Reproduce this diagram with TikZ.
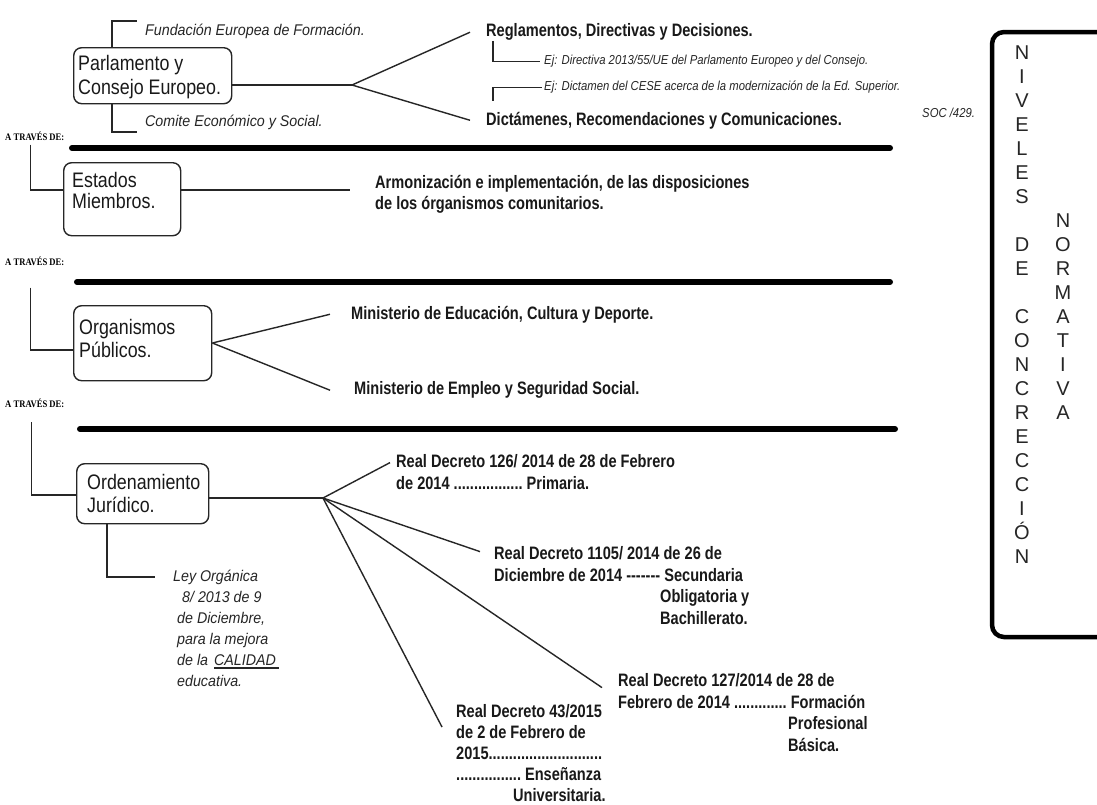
\documentclass[tikz,border=0pt]{standalone}
\usepackage{fontspec}
\setmainfont{Liberation Sans}
\newfontfamily\boxfam[FakeStretch=0.85]{Liberation Sans}
\newfontfamily\bfam[FakeStretch=0.81]{Liberation Sans}
\newfontfamily\ifam[FakeStretch=0.92]{Liberation Sans}
\newfontfamily\sifam[FakeStretch=0.87]{Liberation Sans}
\newfontfamily\serfam[FakeStretch=0.86]{Liberation Serif}
\newfontfamily\vfam{Liberation Sans}
\newcommand\boxft{\boxfam\fontsize{21}{22}\selectfont}
\newcommand\boldft{\bfam\bfseries\fontsize{18}{21.5}\selectfont}
\newcommand\itft{\ifam\itshape\fontsize{15.5}{21}\selectfont}
\newcommand\smitft{\sifam\itshape\fontsize{13}{16}\selectfont}
\newcommand\travft{\serfam\bfseries\fontsize{10}{12}\selectfont}
\newcommand\vertft{\vfam\fontsize{20}{24}\selectfont}
\newcommand\myul[1]{\setbox0=\hbox{#1}\rlap{\rule[-3.5pt]{\wd0}{1.5pt}}\box0}
\begin{document}
\begin{tikzpicture}[x=1pt,y=-1pt,
  conn/.style={draw=black!85, line width=1.4pt},
  rbox/.style={draw=black!85, line width=1.4pt, rounded corners=8pt, inner sep=0pt, anchor=north west},
  bar/.style={line width=6pt, line cap=round},
  boxtxt/.style={font=\boxft, align=left, inner sep=0pt, anchor=north west, text=black!90},
  btxt/.style={font=\boldft, align=left, inner sep=0pt, anchor=north west, text=black!90},
  itxt/.style={font=\itft, inner sep=0pt, anchor=base west, text=black!85},
  sitxt/.style={font=\smitft, inner sep=0pt, anchor=base west, text=black!85},
  trav/.style={font=\travft, inner sep=0pt, anchor=base west},
  vert/.style={font=\vertft, align=center, inner sep=0pt, anchor=north, text=black!85}]
\useasboundingbox (0,0) rectangle (1097,804);
\fill[white] (0,0) rectangle (1097,804);

% ---------- Level 1
\node[rbox, minimum width=158pt, minimum height=56pt] (parl) at (73,47) {};
\node[boxtxt] (parlt) at (78,55.5) {Parlamento y\\[2pt]Consejo Europeo.};
\node[itxt] (fund) at (145,35.5) {Fundación Europea de Formación.};
\node[itxt] (cesoc) at (145,126.5) {Comite Económico y Social.};
\coordinate (fund1) at (137,21);
\coordinate (ces1) at (137,132);
\draw[conn] ([xshift=39pt]parl.north west) |- (fund1);
\draw[conn] ([xshift=39pt]parl.south west) |- (ces1);
\coordinate (hub1) at (352,85);
\node[btxt] (regl) at (486,23.6) {Reglamentos, Directivas y Decisiones.};
\node[sitxt] (ej1) at (544,64.7) {Ej: Directiva 2013/55/UE del Parlamento Europeo y del Consejo.};
\node[sitxt] (ej2) at (544,90.7) {Ej: Dictamen del CESE acerca de la modernización de la Ed. Superior.};
\node[sitxt] (soc) at (922,117.7) {SOC /429.};
\node[btxt] (dict) at (486,111.6) {Dictámenes, Recomendaciones y Comunicaciones.};
\draw[conn] (parl.east |- hub1) -- (hub1);
\draw[conn] (hub1) -- ([xshift=-16pt]regl.west);
\draw[conn] (hub1) -- ([xshift=-16pt]dict.west);
\draw[conn] ([xshift=7pt]regl.south west) |- ([xshift=-4pt]ej1.west);
\draw[conn] ([xshift=7pt,yshift=11pt]dict.north west) |- ([xshift=-2pt]ej2.west);

\draw[bar] (72,148) -- (890,148);

% ---------- Level 2
\node[trav] (tr1) at (5,140.3) {A TRAVÉS DE:};
\node[rbox, minimum width=117pt, minimum height=73pt] (est) at (63,162) {};
\node[boxtxt] (estt) at (72,172.5) {Estados\\[-1pt]Miembros.};
\node[btxt] (armo) at (375,174.6) {Armonización e implementación, de las disposiciones\\de los órganismos comunitarios.};
\coordinate (estc) at (0,190);
\draw[conn] ([xshift=-4pt,yshift=-4pt]tr1.south) |- (est.west |- estc);
\draw[conn] (est.east |- estc) -- ([xshift=-25pt]armo.west |- estc);

\draw[bar] (77,282) -- (890,282);

% ---------- Level 3
\node[trav] (tr2) at (5,265.3) {A TRAVÉS DE:};
\node[rbox, minimum width=138pt, minimum height=75pt] (org) at (73,305) {};
\node[boxtxt] (orgt) at (79,319.5) {Organismos\\[1pt]Públicos.};
\node[btxt] (mecd) at (351,305.6) {Ministerio de Educación, Cultura y Deporte.};
\node[btxt] (mess) at (354,381.6) {Ministerio de Empleo y Seguridad Social.};
\coordinate (orgc) at (0,350);
\coordinate (orgh) at (0,343);
\draw[conn] ([xshift=-4pt,yshift=-22pt]tr2.south) |- (org.west |- orgc);
\draw[conn] (org.east |- orgh) -- ([xshift=-21pt]mecd.west);
\draw[conn] (org.east |- orgh) -- ([xshift=-24pt]mess.west);

\draw[bar] (80,429) -- (895,429);

% ---------- Level 4
\node[trav] (tr3) at (5,407) {A TRAVÉS DE:};
\node[rbox, minimum width=132pt, minimum height=60pt] (ord) at (76,463) {};
\node[boxtxt] (ordt) at (87,474.5) {Ordenamiento\\[1pt]Jurídico.};
\coordinate (ordc) at (0,495);
\coordinate (hub2) at (323,498);
\draw[conn] ([xshift=-3pt,yshift=-15pt]tr3.south) |- (ord.west |- ordc);
\draw[conn] (ord.east |- hub2) -- (hub2);

\node[btxt] (rd126) at (396,454.6) {Real Decreto 126/ 2014 de 28 de Febrero\\de 2014 .................\ Primaria.};
\node[btxt] (rd1105) at (494,546.6) {Real Decreto 1105/ 2014 de 26 de\\Diciembre de 2014 -{}-{}-{}-{}-{}-{}-\ Secundaria\\\hspace*{166pt}Obligatoria y\\\hspace*{166pt}Bachillerato.};
\node[btxt] (rd127) at (618,673.6) {Real Decreto 127/2014 de 28 de\\Febrero de 2014 .............\ Formación\\\hspace*{170pt}Profesional\\\hspace*{170pt}Básica.};
\node[btxt, font=\boldft\fontsize{18}{21}\selectfont] (rd43) at (456,704) {Real Decreto 43/2015\\de 2 de Febrero de\\2015............................\\................\ Enseñanza\\\hspace*{57pt}Universitaria.};
\draw[conn] (hub2) -- ([xshift=-6pt,yshift=-8pt]rd126.north west);
\draw[conn] (hub2) -- ([xshift=-14pt,yshift=-5pt]rd1105.north west);
\draw[conn] (hub2) -- ([xshift=-16pt,yshift=-14pt]rd127.north west);
\draw[conn] (hub2) -- ([xshift=-14pt,yshift=-23pt]rd43.north west);

\node[itxt, align=left, anchor=north west] (ley) at (173,569.5) {Ley Orgánica\\\hspace*{9pt}8/ 2013 de 9\\\hspace*{4pt}de Diciembre,\\\hspace*{4pt}para la mejora\\\hspace*{4pt}de la\hspace{6pt}\myul{CALIDAD\kern3pt}\\\hspace*{4pt}educativa.};
\draw[conn] ([xshift=31pt]ord.south west) |- ([xshift=-18pt,yshift=-7.5pt]ley.north west);

% ---------- Right frame
\begin{scope}
\clip (0,0) rectangle (1097,804);
\draw[line width=4.5pt, rounded corners=12pt] (992,32) rectangle (1130,637);
\end{scope}
\node[vert] (niv) at (1022,45.8) {N\\I\\V\\E\\L\\E\\S\\[24pt]D\\E\\[24pt]C\\O\\N\\C\\R\\E\\C\\C\\I\\Ó\\N};
\node[vert] (norm) at (1063,213.8) {N\\O\\R\\M\\A\\T\\I\\V\\A};
\end{tikzpicture}
\end{document}
